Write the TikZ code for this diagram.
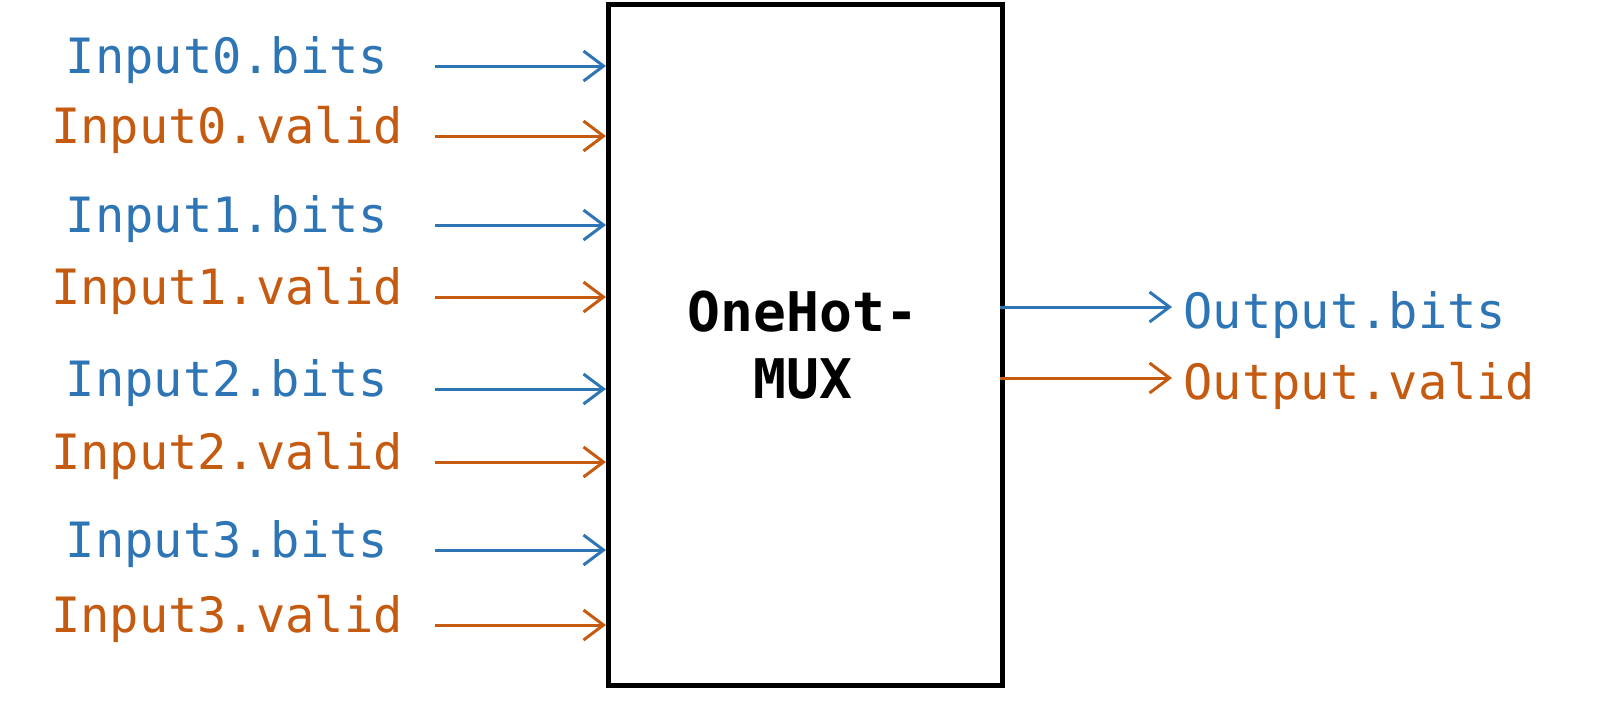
\documentclass[tikz,border=0pt]{standalone}
\usepackage{fontspec}
\setmonofont{DejaVu Sans Mono}
\usetikzlibrary{arrows.meta}
\definecolor{cb}{HTML}{2E75B6}
\definecolor{co}{HTML}{C55A11}
\begin{document}%
\begin{tikzpicture}[x=0.3pt,y=-0.3pt,
  lbl/.style={font=\ttfamily\fontsize{14.6}{16}\selectfont, inner sep=0pt},
  sig/.style={line width=0.9pt, -{Straight Barb[length=6pt,width=9pt,line width=0.9pt]}}]
\node[draw, line width=1.5pt, minimum width=394*0.3pt, minimum height=681*0.3pt, anchor=north west, inner sep=0pt] (box) at (606,2) {};
\node[font=\ttfamily\bfseries\fontsize{16.4}{20}\selectfont, align=center] (t) at (803,345) {OneHot-\\MUX};
\foreach \n/\y/\c/\s in {a/66/cb/Input0.bits, b/136/co/Input0.valid, c/225/cb/Input1.bits, d/297/co/Input1.valid, e/389/cb/Input2.bits, f/462/co/Input2.valid, g/550/cb/Input3.bits, h/625/co/Input3.valid}{
  \node[lbl, text=\c] (l\n) at (227,\y-6) {\s};
  \coordinate (s\n) at (435,\y);
  \coordinate (e\n) at (606,\y);
  \draw[sig, draw=\c] (s\n) -- (e\n);
}
\foreach \n/\y/\c/\s in {p/307/cb/Output.bits, q/378/co/Output.valid}{
  \coordinate (s\n) at (1000,\y);
  \coordinate (e\n) at (1172,\y);
  \draw[sig, draw=\c] (s\n) -- (e\n);
  \node[lbl, text=\c, anchor=west] (l\n) at (1183,\y+8) {\s};
}
\pgfresetboundingbox
\useasboundingbox (0,0) rectangle (1600,700);
\end{tikzpicture}%
\end{document}
